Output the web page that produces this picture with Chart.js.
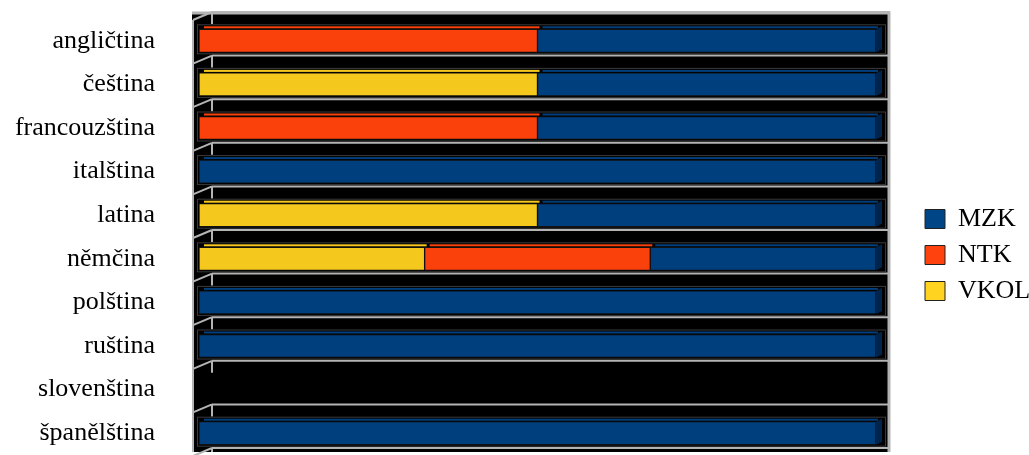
<!DOCTYPE html>
<html>
<head>
<meta charset="utf-8">
<script src="https://cdn.jsdelivr.net/npm/chart.js@4.4.0/dist/chart.umd.min.js"></script>
<style>
	html, body { margin: 0; padding: 0; background: #fff; }
	canvas { display: block; }
</style>
</head>
<body>
<canvas id="langChart" width="1029" height="455"></canvas>
<script>
// data (share of each library, %)
const languages = ['angličtina', 'čeština', 'francouzština', 'italština', 'latina', 'němčina', 'polština', 'ruština', 'slovenština', 'španělština'];
const vkol = [null, 50, null, null, 50, 33.33, null, null, null, null];
const ntk = [50, null, 50, null, null, 33.33, null, null, null, null];
const mzk = [50, 50, 50, 100, 50, 33.34, 100, 100, null, 100];

const fills = { VKOL: '#f5c81d', NTK: '#fa410b', MZK: '#003f7e' };
const sides = { VKOL: '#a8880e', NTK: '#a82b06', MZK: '#00254d' };
const legendFills = { VKOL: '#ffd320', NTK: '#ff420e', MZK: '#004586' };
const grey = '#b4b4b4';

// black 3D back wall, grid and bar halos
const wallPlugin = {
	id: 'wall',
	beforeDatasetsDraw(chart) {
		const { ctx, chartArea: ca, scales: { y } } = chart;
		const L = ca.left - 7, T = ca.top - 7, R = ca.right + 14, B = ca.bottom - 3;
		ctx.save();
		ctx.fillStyle = '#000';
		ctx.fillRect(L, T, R - L, B - T);
		ctx.strokeStyle = grey;
		ctx.lineWidth = 2;
		const n = languages.length;
		for (let i = 0; i <= n; i++) {
			let b;
			if (i === 0) b = ca.top;
			else if (i === n) b = ca.bottom;
			else b = (y.getPixelForValue(i - 1) + y.getPixelForValue(i)) / 2;
			const gy = b - 7;
			ctx.beginPath();
			ctx.moveTo(L + 20, gy);
			ctx.lineTo(R, gy);
			ctx.moveTo(L + 1, b + 1);
			ctx.lineTo(L + 20, gy);
			ctx.moveTo(L + 20, gy);
			ctx.lineTo(L + 20, Math.min(gy + 12, B));
			ctx.stroke();
		}
		ctx.beginPath();
		ctx.moveTo(L + 1, ca.top + 1);
		ctx.lineTo(L + 1, B);
		ctx.stroke();
		ctx.lineWidth = 3;
		ctx.beginPath();
		ctx.moveTo(L, T + 1);
		ctx.lineTo(R - 1, T + 1);
		ctx.lineTo(R - 1, B);
		ctx.stroke();
		// dark halo round each bar row
		ctx.strokeStyle = '#3a3a3a';
		ctx.lineWidth = 1;
		chart.data.labels.forEach((_l, i) => {
			let x0 = null, x1 = null, top = 0, h = 0;
			chart.data.datasets.forEach((_d, di) => {
				const el = chart.getDatasetMeta(di).data[i];
				if (!el || _d.data[i] == null) return;
				const p = el.getProps(['x', 'base', 'y', 'height'], true);
				x0 = x0 === null ? p.base : Math.min(x0, p.base);
				x1 = x1 === null ? p.x : Math.max(x1, p.x);
				top = p.y - p.height / 2; h = p.height;
			});
			if (x0 !== null) ctx.strokeRect(x0 - 1.5, top - 4.5, x1 - x0 + 11, h + 6);
		});
		ctx.restore();
	},
	afterDatasetsDraw(chart) {
		const { ctx } = chart;
		ctx.save();
		chart.data.labels.forEach((_l, i) => {
			let last = null;
			chart.data.datasets.forEach((_d, di) => {
				const el = chart.getDatasetMeta(di).data[i];
				if (!el || _d.data[i] == null) return;
				const p = el.getProps(['x', 'base', 'y', 'height'], true);
				const top = p.y - p.height / 2;
				ctx.fillStyle = _d.backgroundColor;
				ctx.fillRect(p.base + 5, top - 3, p.x - p.base - 3, 2);
				if (!last || p.x > last.p.x) last = { p, d: _d };
			});
			if (last) {
				const { p, d } = last;
				const top = p.y - p.height / 2, bot = p.y + p.height / 2;
				ctx.fillStyle = sides[d.label];
				ctx.beginPath();
				ctx.moveTo(p.x, top);
				ctx.lineTo(p.x + 6, top - 3);
				ctx.lineTo(p.x + 6, bot - 3);
				ctx.lineTo(p.x, bot);
				ctx.closePath();
				ctx.fill();
			}
		});
		ctx.restore();
	}
};

function makeSet(label, values) {
	return {
		label: label,
		data: values,
		backgroundColor: fills[label],
		borderColor: '#111',
		borderWidth: 1,
		borderSkipped: false,
		barThickness: 23,
	};
}

const ctx = document.getElementById('langChart').getContext('2d');
new Chart(ctx, {
	type: 'bar',
	data: {
		labels: languages,
		datasets: [makeSet('VKOL', vkol), makeSet('NTK', ntk), makeSet('MZK', mzk)],
	},
	options: {
		indexAxis: 'y',
		responsive: false,
		devicePixelRatio: 1,
		animation: false,
		layout: { padding: { top: 19, bottom: 0, left: 0, right: 0 } },
		scales: {
			x: { stacked: true, min: 0, max: 100, display: false },
			y: {
				stacked: true,
				// invisible tick marks give the gap between labels and plot
				grid: { display: true, drawOnChartArea: false, drawTicks: true, tickLength: 44, tickColor: 'rgba(0,0,0,0)' },
				border: { display: false },
				ticks: { color: '#000', padding: 0, font: { family: 'Liberation Serif', size: 26 } },
				afterFit: (s) => {
					s.width = 199;
					s.paddingTop = 0;
					s.paddingBottom = 0;
				},
			},
			yr: {
				type: 'category',
				position: 'right',
				grid: { display: false, drawTicks: false },
				border: { display: false },
				ticks: { display: false },
				afterFit: (s) => { s.width = 39; },
			},
		},
		plugins: {
			tooltip: { enabled: false },
			legend: {
				position: 'right',
				reverse: true,
				maxWidth: 114,
				title: { display: true, text: ' ', padding: 0, font: { size: 30 } },
				labels: {
					boxWidth: 20,
					boxHeight: 19,
					padding: 10,
					color: '#000',
					font: { family: 'Liberation Serif', size: 26 },
					generateLabels(chart) {
						const items = Chart.defaults.plugins.legend.labels.generateLabels(chart);
						items.forEach((it) => { it.fillStyle = legendFills[it.text]; it.strokeStyle = '#222'; it.lineWidth = 1; });
						return items;
					},
				},
			},
		},
	},
	plugins: [wallPlugin],
});
</script>
</body>
</html>
